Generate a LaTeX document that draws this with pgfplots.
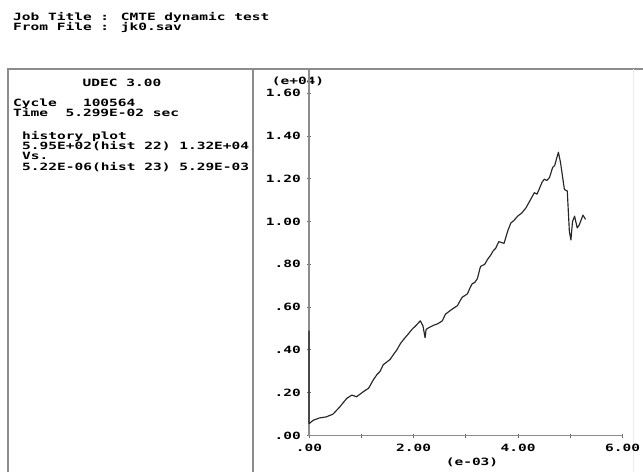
\documentclass[border=0pt]{standalone}
\usepackage{pgfplots}
\pgfplotsset{compat=1.18}
\usepackage{fontspec}
\newfontfamily\dosfont{DejaVu Sans Mono}[FakeStretch=1.45]
\newcommand{\dos}{\dosfont\bfseries\fontsize{10}{10}\selectfont}
\definecolor{framegray}{gray}{0.55}
\definecolor{curve}{gray}{0.15}

\begin{document}
\begin{tikzpicture}[x=1pt,y=1pt]
% page area
\useasboundingbox (0pt,0pt) rectangle (643pt,472pt);
\fill[white] (0pt,0pt) rectangle (643pt,472pt);

% header
\node[anchor=base west,inner sep=0pt,font=\dos] at (13pt,451pt) {Job Title : CMTE dynamic test};
\node[anchor=base west,inner sep=0pt,font=\dos] at (13pt,441pt) {From File : jk0.sav};

% plot frame and divider
\draw[framegray,line width=1.8pt] (8pt,0pt) -- (8pt,403pt) -- (643pt,403pt);
\draw[framegray,line width=1.8pt] (253pt,0pt) -- (253pt,403pt);
\draw[gray!15,line width=1pt] (633pt,0pt) -- (633pt,403pt);

% info panel
\node[anchor=base,inner sep=0pt,font=\dos] at (122pt,385pt) {UDEC 3.00};
\node[anchor=base west,inner sep=0pt,font=\dos] at (13pt,365pt) {Cycle\ \ \ 100564};
\node[anchor=base west,inner sep=0pt,font=\dos] at (13pt,355pt) {Time\ \ 5.299E-02 sec};
\node[anchor=base west,inner sep=0pt,font=\dos] at (22pt,332pt) {history plot};
\node[anchor=base west,inner sep=0pt,font=\dos] at (22pt,322pt) {5.95E+02(hist 22) 1.32E+04};
\node[anchor=base west,inner sep=0pt,font=\dos] at (22pt,312pt) {Vs.};
\node[anchor=base west,inner sep=0pt,font=\dos] at (22pt,301pt) {5.22E-06(hist 23) 5.29E-03};

% exponent labels
\node[anchor=base,inner sep=0pt,font=\dos] at (298pt,387pt) {(e+04)};
\node[anchor=base,inner sep=0pt,font=\dos] at (472pt,7pt) {(e-03)};

\begin{axis}[
  at={(309pt,36.5pt)}, anchor=origin,
  scale only axis, width=313.7pt, height=366.5pt,
  xmin=0, xmax=6, ymin=0, ymax=1.713,
  axis x line=bottom, axis y line=left,
  axis line style={framegray,line width=1.8pt,-},
  xtick={0,1,2,3,4,5,6},
  xticklabels={.00,,2.00,,4.00,,6.00},
  ytick={0,0.2,0.4,0.6,0.8,1.0,1.2,1.4,1.6},
  yticklabels={.00,.20,.40,.60,.80,1.00,1.20,1.40,1.60},
  tick align=center, major tick length=4pt,
  tick style={gray!80!black,line width=0.9pt},
  ticklabel style={font=\dos,inner sep=0pt},
  xticklabel style={yshift=-6pt},
  yticklabel style={xshift=-6pt},
  clip=false,
]
% history 22 (stress) against history 23 (displacement)
\addplot[curve,line width=1.15pt,line join=round] coordinates {
(0,0.49) (0,0.055) (0.08,0.071) (0.2,0.082) (0.33,0.087) (0.46,0.10)
(0.59,0.134) (0.72,0.173) (0.82,0.189) (0.91,0.181) (1.04,0.205)
(1.14,0.221) (1.23,0.26) (1.30,0.285) (1.36,0.30) (1.42,0.331) (1.55,0.355)
(1.62,0.38) (1.68,0.40) (1.75,0.43) (1.81,0.449) (1.90,0.475) (1.97,0.496)
(2.05,0.515) (2.13,0.536) (2.18,0.512)
(2.22,0.457) (2.24,0.496) (2.30,0.505) (2.38,0.515) (2.46,0.522) (2.55,0.536)
(2.61,0.567) (2.68,0.580) (2.74,0.591) (2.84,0.607) (2.89,0.630) (2.93,0.646)
(3.03,0.662) (3.08,0.690) (3.12,0.709) (3.17,0.715) (3.22,0.733) (3.28,0.79)
(3.36,0.80) (3.42,0.825) (3.475,0.843) (3.52,0.862) (3.57,0.875)
(3.63,0.906) (3.73,0.898) (3.80,0.955) (3.86,0.993) (3.92,1.005) (3.99,1.025)
(4.07,1.040) (4.15,1.064) (4.22,1.095) (4.31,1.135) (4.36,1.128) (4.40,1.15)
(4.46,1.185) (4.5,1.198) (4.55,1.192) (4.6,1.206) (4.66,1.253)
(4.70,1.262) (4.725,1.285) (4.77,1.324) (4.81,1.277) (4.885,1.15) (4.94,1.143)
(4.97,1.0) (4.98,0.953) (5.01,0.914) (5.04,1.0) (5.08,1.025)
(5.13,0.97) (5.17,0.985) (5.24,1.03) (5.29,1.01)
};
\end{axis}
\end{tikzpicture}
\end{document}
